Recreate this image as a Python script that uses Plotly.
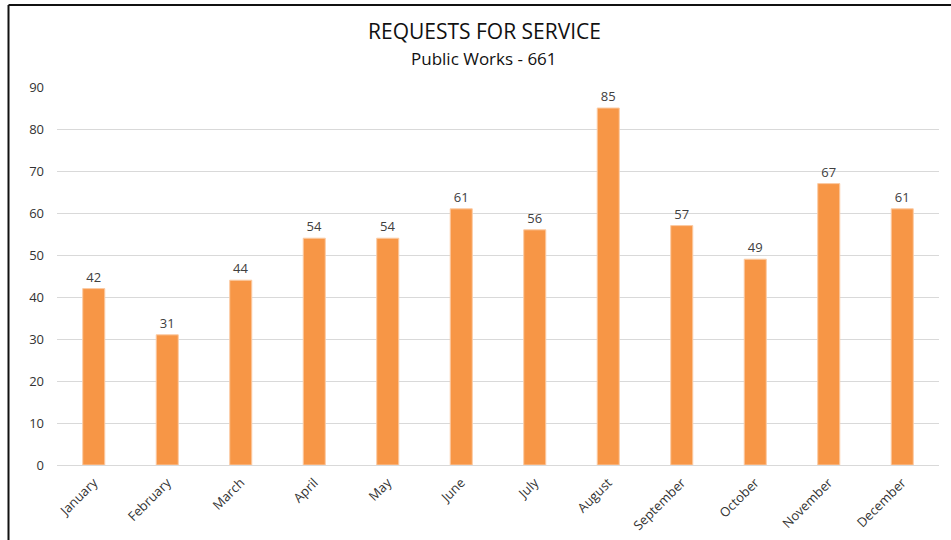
import plotly.graph_objects as go

months = ["January", "February", "March", "April", "May", "June",
          "July", "August", "September", "October", "November", "December"]
requests = [42, 31, 44, 54, 54, 61, 56, 85, 57, 49, 67, 61]

W, H = 951, 540
L, R, T, B = 57, 12, 87, 75
pw, ph = W - L - R, H - T - B

fig = go.Figure(go.Bar(
    x=months, y=requests,
    marker=dict(color="#F79646", line=dict(color="#FBCBA4", width=1)),
    text=[str(v) for v in requests], textposition="outside",
    textfont=dict(family="Open Sans", size=13, color="#404040"),
    cliponaxis=False,
))

# outer frame: top and left edges only
fx = (8.5 - L) / pw
fy = 1 + (T - 5) / ph
fig.add_shape(type="line", xref="paper", yref="paper", x0=fx, x1=(W - L) / pw + 0.01,
              y0=fy, y1=fy, line=dict(color="#111111", width=2))
fig.add_shape(type="line", xref="paper", yref="paper", x0=fx, x1=fx,
              y0=fy, y1=-B / ph - 0.05, line=dict(color="#111111", width=2))

fig.add_annotation(text="REQUESTS FOR SERVICE", xref="paper", yref="paper",
                   x=(484 - L) / pw, y=1 + (T - 31) / ph, yanchor="middle", showarrow=False,
                   font=dict(family="Open Sans", size=21, color="#111111"))
fig.add_annotation(text="Public Works - 661", xref="paper", yref="paper",
                   x=(484 - L) / pw, y=1 + (T - 58.5) / ph, yanchor="middle", showarrow=False,
                   font=dict(family="Open Sans", size=17, color="#111111"))

fig.update_layout(
    width=W, height=H, margin=dict(l=L, r=R, t=T, b=B),
    paper_bgcolor="white", plot_bgcolor="white",
    bargap=0.70, showlegend=False,
    xaxis=dict(tickangle=-45, tickfont=dict(family="Open Sans", size=13, color="#333333"),
               showline=True, linecolor="#D9D9D9", linewidth=1, ticks="",
               ticklabelstandoff=4, automargin=False),
    yaxis=dict(range=[0, 90], dtick=10, tickfont=dict(family="Open Sans", size=13, color="#333333"),
               gridcolor="#D9D9D9", gridwidth=1, zeroline=False, ticklabelstandoff=12,
               automargin=False),
)

fig.write_html("out.html")
